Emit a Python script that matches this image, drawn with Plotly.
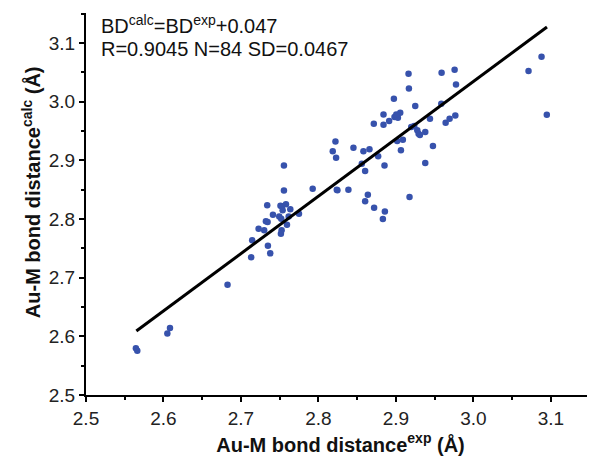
import plotly.graph_objects as go

# experimental (x) vs calculated (y) Au-M bond distances
bd_exp = [2.5644, 2.5662, 2.6084, 2.6050, 2.6827,
          2.7555, 2.7555, 2.7926, 2.8237, 2.8245, 2.7339, 2.7529, 2.7510, 2.7581, 2.7538,
          2.7637, 2.7413, 2.7494, 2.7520, 2.7616, 2.7749, 2.7322, 2.7344, 2.7594,
          2.7228, 2.7300, 2.7525, 2.7516, 2.7145, 2.7348, 2.7378, 2.7132,
          2.8387, 2.8185, 2.8228, 2.8220, 2.8452, 2.8581, 2.8659, 2.8771, 2.8853,
          2.8560, 2.8603, 2.8638, 2.8603, 2.8719, 2.8858, 2.8832, 2.9176, 2.9065,
          2.9379, 2.9478, 2.9017, 2.9090, 2.8840, 2.8715, 2.8840, 2.8913, 2.8982,
          2.9013, 2.9056, 2.9026, 2.9005, 2.9250, 2.9586, 2.9198, 2.9237, 2.9276,
          2.9293, 2.9310, 2.9379, 2.9440, 2.9642, 2.9693, 2.9767, 2.9163, 2.9168,
          2.9590, 2.9758, 2.9776, 3.0712, 3.0880, 3.0948, 2.8974]
bd_calc = [2.5796, 2.5756, 2.6140, 2.6046, 2.6880,
           2.8913, 2.8487, 2.8516, 2.8499, 2.8488, 2.8232, 2.8215, 2.8225, 2.8249, 2.8147,
           2.8164, 2.8073, 2.8044, 2.8005, 2.8044, 2.8090, 2.7959, 2.7947, 2.7903,
           2.7835, 2.7806, 2.7806, 2.7750, 2.7636, 2.7545, 2.7414, 2.7346,
           2.8499, 2.9152, 2.9044, 2.9322, 2.9215, 2.9152, 2.9186, 2.9067, 2.8913,
           2.8942, 2.8816, 2.8414, 2.8300, 2.8192, 2.8129, 2.7998, 2.8373, 2.9169,
           2.8952, 2.9242, 2.9327, 2.9351, 2.9782, 2.9623, 2.9606, 2.9668, 2.9736,
           2.9765, 2.9811, 2.9726, 2.9780, 2.9923, 2.9964, 2.9566, 2.9583, 2.9510,
           2.9453, 2.9430, 2.9480, 2.9709, 2.9640, 2.9709, 2.9765, 3.0475, 3.0225,
           3.0492, 3.0543, 3.0293, 3.0520, 3.0765, 2.9777, 3.0049]

fit_x = [2.565, 3.095]
fit_y = [2.609, 3.127]

x_ticks = [2.5, 2.6, 2.7, 2.8, 2.9, 3.0, 3.1]
y_ticks = [2.5, 2.6, 2.7, 2.8, 2.9, 3.0, 3.1]

FONT = "Liberation Sans, Arial, sans-serif"

fig = go.Figure()
fig.add_trace(go.Scatter(x=bd_exp, y=bd_calc, mode="markers",
                         marker=dict(size=6.5, color="rgb(55,82,172)"),
                         showlegend=False, cliponaxis=False))
fig.add_trace(go.Scatter(x=fit_x, y=fit_y, mode="lines",
                         line=dict(color="black", width=3),
                         showlegend=False))

axis_common = dict(showgrid=False, zeroline=False, showline=True,
                   linecolor="black", linewidth=2, ticks="outside",
                   ticklen=5, tickwidth=2, tickcolor="black",
                   tickformat=".1f", automargin=False,
                   tickfont=dict(family=FONT, size=19, color="#222"),
                   minor=dict(ticks="outside", ticklen=3, tickwidth=1.5,
                              tickcolor="black", dtick=0.05))

fig.update_xaxes(range=[2.5, 3.157], tickvals=x_ticks, **axis_common,
                 title=dict(text="<b>Au-M bond distance<sup>exp</sup> (Å)</b>",
                            font=dict(family=FONT, size=20, color="#111"),
                            standoff=10))
fig.update_yaxes(range=[2.5, 3.151], tickvals=y_ticks, **axis_common)

fig.add_annotation(xref="paper", yref="paper", x=-0.108, y=0.531,
                   xanchor="center", yanchor="middle", showarrow=False,
                   textangle=-90,
                   text="<b>Au-M bond distance<sup>calc</sup> (Å)</b>",
                   font=dict(family=FONT, size=20, color="#111"))

fig.add_annotation(xref="paper", yref="paper", x=0.026, y=0.971,
                   xanchor="left", yanchor="middle", showarrow=False,
                   text="BD<sup>calc</sup>=BD<sup>exp</sup>+0.047",
                   font=dict(family=FONT, size=20, color="#111"))
fig.add_annotation(xref="paper", yref="paper", x=0.026, y=0.906,
                   xanchor="left", yanchor="middle", showarrow=False,
                   text="R=0.9045 N=84 SD=0.0467",
                   font=dict(family=FONT, size=20, color="#111"))

# page body has an 8px margin, so size the figure to fit the window
fig.update_layout(width=587, height=452,
                  margin=dict(l=78, r=0, t=5, b=65),
                  plot_bgcolor="white", paper_bgcolor="white")

fig.write_html("out.html")
